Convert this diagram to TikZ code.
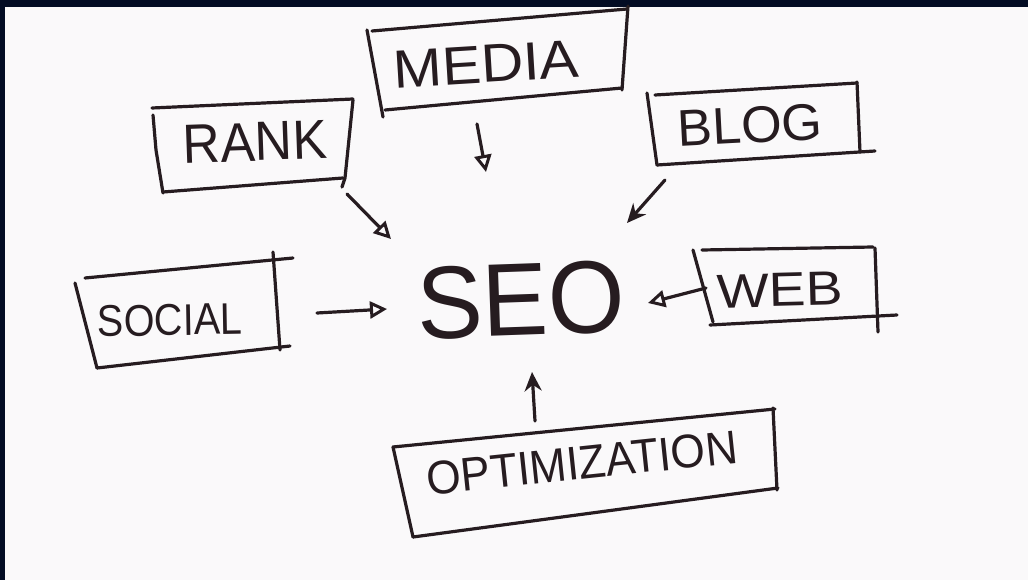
\documentclass[tikz,border=0pt]{standalone}
\usepackage{fontspec}
\setmainfont{Liberation Sans}
\usepackage{graphicx}
\usetikzlibrary{arrows.meta}
\definecolor{navy}{RGB}{3,12,36}
\definecolor{paper}{RGB}{250,249,250}
\definecolor{ink}{RGB}{38,28,32}
\begin{document}
\begin{tikzpicture}[x=1pt,y=-1pt,
  box/.style={draw=ink,line width=3.2pt,line cap=round,line join=round},
  arr/.style={draw=ink,line width=3.2pt,line cap=round,-{Triangle[open,length=17pt,width=17pt,line width=3pt]}},
  arrf/.style={draw=ink,line width=3.2pt,line cap=round,-{Stealth[length=19pt,width=17pt]}},
  lbl/.style={text=ink,inner sep=0pt}]
\useasboundingbox (0,0) rectangle (1028,580);
\fill[navy] (0,0) rectangle (1028,580);
\fill[paper] (5,7) rectangle (1028,580);

% labels
\node[lbl,rotate=3.5] (media) at (486,64) {\resizebox{186pt}{37pt}{MEDIA}};
\node[lbl,rotate=2] (rank) at (255,142) {\resizebox{144pt}{38pt}{RANK}};
\node[lbl,rotate=3] (blog) at (750,125) {\resizebox{145pt}{36pt}{BLOG}};
\node[lbl,rotate=1] (social) at (170,320) {\resizebox{145pt}{31pt}{SOCIAL}};
\node[lbl,rotate=1.5] (web) at (780,290) {\resizebox{126pt}{33pt}{WEB}};
\node[lbl,rotate=6] (opt) at (582,463) {\resizebox{312pt}{33pt}{OPTIMIZATION}};
\node[lbl,rotate=2] (seo) at (521,300) {\resizebox{208pt}{72pt}{SEO}};

% boxes
\draw[box] (372,31) -- (627,9);
\draw[box] (628,6) -- (622,90);
\draw[box] (385,110) -- (622,88);
\draw[box] (367,30) -- (383,117);

\draw[box] (152,108) -- (353,99);
\draw[box] (353,100) -- (345,178) -- (342,187);
\draw[box] (163,192) -- (343,178);
\draw[box] (153,115) -- (156,150) -- (163,193);

\draw[box] (655,95) -- (857,83);
\draw[box] (857,82) -- (860,152);
\draw[box] (657,165) -- (875,151);
\draw[box] (647,93) -- (657,165);

\draw[box] (85,278) -- (293,258);
\draw[box] (273,252) -- (280,350);
\draw[box] (97,368) -- (290,346);
\draw[box] (75,283) -- (97,368);

\draw[box] (702,250) -- (873,247);
\draw[box] (875,248) -- (878,332);
\draw[box] (710,325) -- (897,315);
\draw[box] (693,250) -- (713,322);

\draw[box] (393,447) -- (775,409);
\draw[box] (773,408) -- (777,490);
\draw[box] (413,537) -- (778,488);
\draw[box] (393,447) -- (413,537);

% connectors
\coordinate (mediaT) at (477,124);
\coordinate (mediaH) at (486,172);
\coordinate (rankT) at (347,194);
\coordinate (rankH) at (391,239);
\coordinate (blogT) at (665,180);
\coordinate (blogH) at (627,223);
\coordinate (socialT) at (317,313);
\coordinate (socialH) at (387,309);
\coordinate (webT) at (706,288);
\coordinate (webH) at (648,303);
\coordinate (optT) at (535,421);
\coordinate (optH) at (532,372);
\draw[arr] (mediaT) -- (mediaH);
\draw[arr] (rankT) -- (rankH);
\draw[arrf] (blogT) -- (blogH);
\draw[arr] (socialT) -- (socialH);
\draw[arr] (webT) -- (webH);
\draw[arrf] (optT) -- (optH);
\end{tikzpicture}
\end{document}
